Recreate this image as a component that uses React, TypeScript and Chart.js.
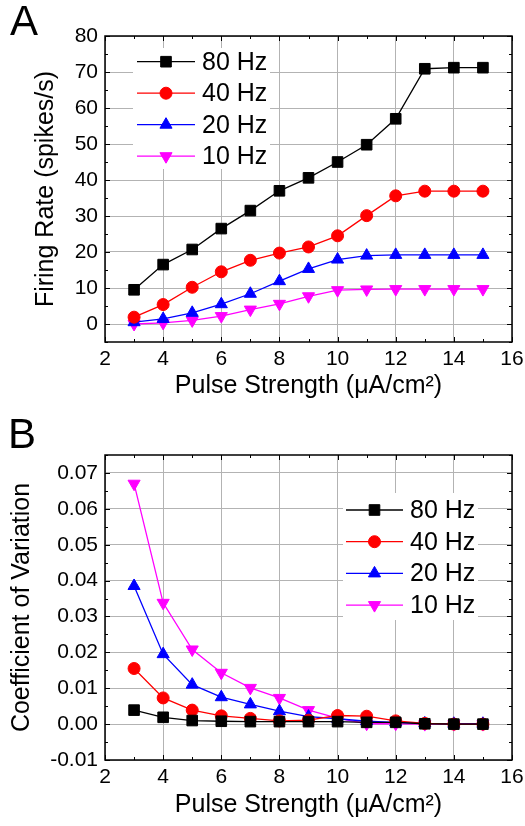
import React, { useEffect, useRef } from 'react';
import { Chart, registerables } from 'chart.js';
import { drawPoint } from 'chart.js/helpers';

Chart.register(...registerables);

// ---------- data ----------
const pulseStrength = [3, 4, 5, 6, 7, 8, 9, 10, 11, 12, 13, 14, 15];
const seriesLabels = ['80 Hz', '40 Hz', '20 Hz', '10 Hz'];

const rate80Hz = [9.5, 16.5, 20.7, 26.5, 31.5, 37.0, 40.6, 45.0, 49.8, 57.0, 70.9, 71.2, 71.2];
const rate40Hz = [1.9, 5.4, 10.2, 14.5, 17.7, 19.7, 21.4, 24.5, 30.1, 35.6, 36.9, 36.9, 36.9];
const rate20Hz = [0.5, 1.4, 3.1, 5.5, 8.4, 11.9, 15.3, 17.9, 19.0, 19.2, 19.2, 19.2, 19.2];
const rate10Hz = [0.0, 0.3, 1.0, 2.2, 4.0, 5.6, 7.7, 9.4, 9.6, 9.7, 9.7, 9.7, 9.7];

const cv80Hz = [0.0039, 0.0019, 0.001, 0.0008, 0.0007, 0.0007, 0.0007, 0.0007, 0.0005, 0.0005, 0.0001, 0.0, 0.0];
const cv40Hz = [0.0155, 0.0073, 0.0039, 0.0023, 0.0016, 0.0009, 0.0011, 0.0024, 0.0022, 0.0009, 0.0002, 0.0, 0.0];
const cv20Hz = [0.0385, 0.0195, 0.011, 0.0075, 0.0055, 0.0036, 0.0021, 0.0015, 0.0008, 0.0005, 0.0002, 0.0001, 0.0001];
const cv10Hz = [0.067, 0.0338, 0.0208, 0.0143, 0.0101, 0.0073, 0.0039, 0.0017, 0.0001, 0.0001, 0.0, 0.0, 0.0];

const xTickValues = [2, 4, 6, 8, 10, 12, 14, 16];
const rateTickValues = [0, 10, 20, 30, 40, 50, 60, 70, 80];
const cvTickValues = [-0.01, 0, 0.01, 0.02, 0.03, 0.04, 0.05, 0.06, 0.07];

const xLabel = 'Pulse Strength (μA/cm²)';
const rateLabel = 'Firing Rate (spikes/s)';
const cvLabel = 'Coefficient of Variation';

// ---------- styles ----------
const FONT = '"Liberation Sans", Arial, sans-serif';
const GRID = '#b3b3b3';
const seriesColors = ['#000000', '#ff0000', '#0000ff', '#ff00ff'];
const markerStyles = ['rect', 'circle', 'triangle', 'triangle'];
const markerRotations = [0, 0, 0, 180];
const markerRadii = [7.5, 6, 7, 7];

Chart.defaults.font.family = FONT;

const framePlugin = {
  id: 'frame',
  afterDatasetsDraw(chart: any, _args: any, opts: any) {
    const { ctx, chartArea: a, scales } = chart;
    const xs = scales.x;
    const ys = scales.y;
    ctx.save();
    ctx.strokeStyle = '#000';
    ctx.lineWidth = 1;
    const seg = (x1: number, y1: number, x2: number, y2: number) => {
      ctx.beginPath();
      ctx.moveTo(x1, y1);
      ctx.lineTo(x2, y2);
      ctx.stroke();
    };
    const nx = Math.round((xs.max - xs.min) / opts.xMinor);
    for (let i = 0; i <= nx; i++) {
      const v = xs.min + i * opts.xMinor;
      const len = i % 2 === 0 ? 5 : 3;
      const px = Math.round(xs.getPixelForValue(v)) + 0.5;
      seg(px, a.bottom, px, a.bottom - len);
      seg(px, a.top, px, a.top + len);
    }
    const ny = Math.round((ys.max - ys.min) / opts.yMinor);
    for (let i = 0; i <= ny; i++) {
      const v = ys.min + i * opts.yMinor;
      const isMajor = Math.abs(Math.round(v / opts.yMajor) * opts.yMajor - v) < opts.yMinor / 100;
      const len = isMajor ? 5 : 3;
      const py = Math.round(ys.getPixelForValue(v)) + 0.5;
      seg(a.left, py, a.left + len, py);
      seg(a.right, py, a.right - len, py);
    }
    ctx.lineWidth = 1.5;
    ctx.strokeRect(a.left, a.top, a.right - a.left, a.bottom - a.top);
    ctx.fillStyle = '#000';
    ctx.font = `42px ${FONT}`;
    ctx.textAlign = 'left';
    ctx.textBaseline = 'alphabetic';
    ctx.fillText(opts.letter, opts.letterX, opts.letterY);
    ctx.restore();
  },
};

const insetLegendPlugin = {
  id: 'insetLegend',
  afterDatasetsDraw(chart: any, _args: any, opts: any) {
    const { ctx, chartArea: a } = chart;
    ctx.save();
    ctx.fillStyle = '#ffffff';
    ctx.fillRect(a.left + opts.boxX, a.top + opts.boxY, opts.boxW, opts.boxH);
    chart.data.datasets.forEach((ds: any, i: number) => {
      const cy = a.top + opts.rowY + i * opts.rowGap;
      const x0 = a.left + opts.lineX;
      ctx.strokeStyle = ds.borderColor;
      ctx.lineWidth = ds.borderWidth;
      ctx.beginPath();
      ctx.moveTo(x0, cy);
      ctx.lineTo(x0 + opts.lineLen, cy);
      ctx.stroke();
      ctx.fillStyle = ds.pointBackgroundColor;
      ctx.strokeStyle = ds.pointBorderColor;
      ctx.lineWidth = 1;
      drawPoint(ctx, {
        pointStyle: ds.pointStyle,
        rotation: ds.pointRotation,
        radius: ds.pointRadius,
        borderWidth: 1,
      } as any, x0 + opts.lineLen / 2, cy);
      ctx.fillStyle = '#000';
      ctx.font = `25px ${FONT}`;
      ctx.textAlign = 'left';
      ctx.textBaseline = 'middle';
      ctx.fillText(ds.label, a.left + opts.textX, cy + 1);
    });
    ctx.restore();
  },
};

function makeDatasets(series: number[][]) {
  return series.map((vals, i) => ({
    label: seriesLabels[i],
    data: pulseStrength.map((x, j) => ({ x, y: vals[j] })),
    borderColor: seriesColors[i],
    backgroundColor: seriesColors[i],
    pointBackgroundColor: seriesColors[i],
    pointBorderColor: seriesColors[i],
    borderWidth: 1.3,
    pointStyle: markerStyles[i],
    pointRotation: markerRotations[i],
    pointRadius: markerRadii[i],
    pointBorderWidth: 1,
    tension: 0,
  }));
}

function makeConfig(p: any) {
  return {
    type: 'line',
    data: { datasets: makeDatasets(p.series) },
    plugins: [framePlugin, insetLegendPlugin],
    options: {
      responsive: false,
      animation: false,
      devicePixelRatio: 1,
      layout: { padding: { top: p.padTop, right: 13, left: 0, bottom: 0 } },
      plugins: {
        legend: { display: false },
        tooltip: { enabled: false },
        frame: p.frame,
        insetLegend: p.legend,
      },
      scales: {
        x: {
          type: 'linear',
          min: 2,
          max: 16,
          afterBuildTicks: (s: any) => {
            s.ticks = xTickValues.map((v) => ({ value: v }));
          },
          afterFit: (s: any) => {
            s.height = p.xHeight;
            s.paddingLeft = 0;
            s.paddingRight = 0;
          },
          ticks: {
            font: { size: 21 },
            color: '#000',
            padding: 5,
            maxRotation: 0,
            autoSkip: false,
          },
          grid: { color: GRID, lineWidth: 1, drawTicks: false },
          border: { display: false },
          title: {
            display: true,
            text: xLabel,
            color: '#000',
            font: { size: 25 },
            padding: { top: 0, bottom: p.xTitlePad },
          },
        },
        y: {
          type: 'linear',
          min: p.yMin,
          max: p.yMax,
          afterBuildTicks: (s: any) => {
            s.ticks = p.yTicks.map((v: number) => ({ value: v }));
          },
          afterFit: (s: any) => {
            s.width = 105;
            s.paddingTop = 0;
            s.paddingBottom = 0;
          },
          ticks: {
            font: { size: 21 },
            color: '#000',
            padding: 7,
            callback: p.yFormat,
          },
          grid: { color: GRID, lineWidth: 1, drawTicks: false },
          border: { display: false },
          title: {
            display: true,
            text: p.yLabel,
            color: '#000',
            font: { size: 25 },
            padding: { top: p.yTitlePad, bottom: 0 },
          },
        },
      },
    },
  } as any;
}

const W = 525;
const H = 413;

function Panel({ params, top }: { params: any; top: number }) {
  const ref = useRef<HTMLCanvasElement | null>(null);
  useEffect(() => {
    if (!ref.current) return;
    const chart = new Chart(ref.current, makeConfig(params));
    return () => chart.destroy();
  }, []);
  return (
    <canvas
      ref={ref}
      width={W}
      height={H}
      style={{ position: 'absolute', left: 0, top, width: W, height: H }}
    />
  );
}

const panelA = {
  series: [rate80Hz, rate40Hz, rate20Hz, rate10Hz],
  yMin: -5,
  yMax: 80,
  yTicks: rateTickValues,
  yFormat: (v: any) => String(v),
  yLabel: rateLabel,
  padTop: 36,
  xHeight: 71,
  xTitlePad: 12,
  yTitlePad: 31,
  frame: { xMinor: 1, yMinor: 5, yMajor: 10, letter: 'A', letterX: 10, letterY: 35 },
  legend: { boxX: 28, boxY: 12, boxW: 137, boxH: 121, rowY: 25.7, rowGap: 31.5, lineX: 32, lineLen: 58, textX: 97 },
};

const panelB = {
  series: [cv80Hz, cv40Hz, cv20Hz, cv10Hz],
  yMin: -0.01,
  yMax: 0.075,
  yTicks: cvTickValues,
  yFormat: (v: any) => Number(v).toFixed(2),
  yLabel: cvLabel,
  padTop: 42,
  xHeight: 66,
  xTitlePad: 6,
  yTitlePad: 7,
  frame: { xMinor: 1, yMinor: 0.005, yMajor: 0.01, letter: 'B', letterX: 8, letterY: 35 },
  legend: { boxX: 238, boxY: 38, boxW: 135, boxH: 127, rowY: 55, rowGap: 31.7, lineX: 241, lineLen: 57, textX: 305 },
};

export default function App() {
  return (
    <div style={{ position: 'absolute', left: 0, top: 0, width: W, height: 826, background: '#fff' }}>
      <Panel params={panelA} top={0} />
      <Panel params={panelB} top={413} />
    </div>
  );
}
